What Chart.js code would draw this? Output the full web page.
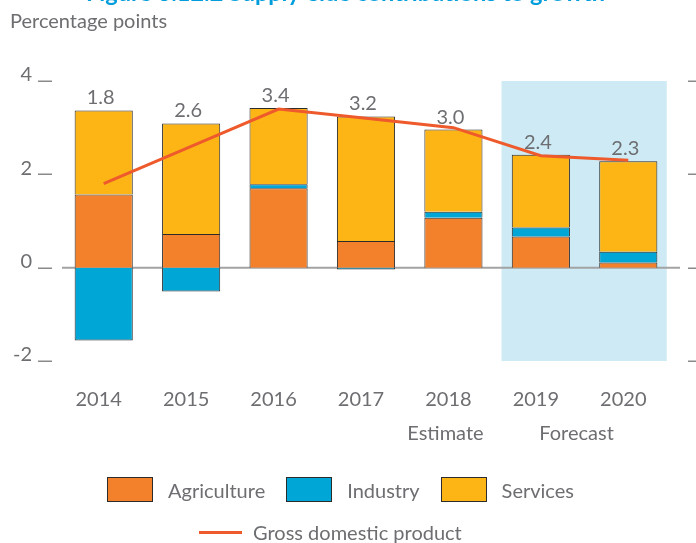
<!DOCTYPE html>
<html>
<head>
<meta charset="utf-8">
<script src="https://cdn.jsdelivr.net/npm/chart.js@4.4.1/dist/chart.umd.min.js"></script>
<style>
  html, body { margin: 0; padding: 0; background: #fff; }
  #wrap { position: relative; width: 696px; height: 543px; overflow: hidden; }
  #chart { position: absolute; left: 0; top: 0; }
  .legend-row {
    position: absolute;
    display: flex;
    align-items: center;
    font-family: Lato, sans-serif;
    font-size: 20px;
    color: #6d6e71;
    white-space: nowrap;
  }
  .legend-item { display: flex; align-items: center; margin-right: 21px; }
  .swatch { width: 44px; height: 23px; border: 1px solid #2b2b2b; margin-right: 15px; }
  .line-swatch { width: 43px; height: 3px; background: #ee5a2c; margin-right: 11px; }
</style>
</head>
<body>
<div id="wrap">
  <canvas id="chart" width="696" height="543"></canvas>
  <div class="legend-row" id="legend1" style="left:107px; top:477px;"></div>
  <div class="legend-row" id="legend2" style="left:199px; top:520px;"></div>
</div>
<script>
const years = ['2014', '2015', '2016', '2017', '2018', '2019', '2020']
const agriculture = [1.57, 0.72, 1.70, 0.57, 1.07, 0.67, 0.11]
const industry = [-1.56, -0.51, 0.09, -0.04, 0.13, 0.19, 0.23]
const services = [1.80, 2.37, 1.63, 2.67, 1.76, 1.56, 1.94]
const gdp = [1.8, 2.6, 3.4, 3.2, 3.0, 2.4, 2.3]
const gdpLabels = ['1.8', '2.6', '3.4', '3.2', '3.0', '2.4', '2.3']
const periodNotes = ['', '', '', '', 'Estimate', 'Forecast', 'Forecast']
const yTicks = [-2, 0, 2, 4]

const titleText = 'Figure 3.12.2 Supply-side contributions to growth'
const unitText = 'Percentage points'

const COLORS = {
  agriculture: '#f3812b',
  industry: '#00a6d6',
  services: '#fdb515',
  gdp: '#ee5a2c',
  text: '#6d6e71',
  shade: '#cdeaf5',
  border: '#2b2b2b'
}
const FONT = 'Lato, sans-serif'

// shading, axis dashes, zero line, value labels and notes
const decorations = {
  id: 'decorations',
  beforeDatasetsDraw(chart) {
    const {ctx, chartArea, scales: {x, y}} = chart
    const cat = x.getPixelForValue(1) - x.getPixelForValue(0)
    ctx.save()

    const fc = periodNotes.map((n, i) => n === 'Forecast' ? i : -1).filter(i => i >= 0)
    if (fc.length) {
      const left = x.getPixelForValue(fc[0]) - cat * 0.45
      const right = x.getPixelForValue(fc[fc.length - 1]) + cat * 0.44
      ctx.fillStyle = COLORS.shade
      ctx.fillRect(left, chartArea.top, right - left, chartArea.bottom - chartArea.top)
    }

    ctx.strokeStyle = '#8a8a8a'
    ctx.lineWidth = 1.5
    yTicks.forEach(v => {
      const py = Math.round(y.getPixelForValue(v)) + 0.25
      ctx.beginPath()
      ctx.moveTo(38, py); ctx.lineTo(52, py)
      ctx.moveTo(688, py); ctx.lineTo(696, py)
      ctx.stroke()
    })

    const zy = y.getPixelForValue(0)
    ctx.strokeStyle = '#a3a3a3'
    ctx.lineWidth = 2
    ctx.beginPath()
    ctx.moveTo(chartArea.left + 2, zy)
    ctx.lineTo(chartArea.right + 8, zy)
    ctx.stroke()
    ctx.restore()
  },
  afterDatasetsDraw(chart) {
    const {ctx, scales: {x}} = chart
    ctx.save()
    ctx.fillStyle = COLORS.text
    ctx.font = '20px ' + FONT
    ctx.textAlign = 'center'
    ctx.textBaseline = 'alphabetic'

    years.forEach((yr, i) => {
      let top = Infinity
      for (let d = 0; d < 3; d++) {
        const el = chart.getDatasetMeta(d).data[i]
        const v = chart.data.datasets[d].data[i]
        if (v > 0) top = Math.min(top, el.y)
      }
      ctx.fillText(gdpLabels[i], x.getPixelForValue(i) - 3, top - 6)
    })

    // group consecutive notes and centre them below the years
    let start = 0
    for (let i = 1; i <= periodNotes.length; i++) {
      if (i === periodNotes.length || periodNotes[i] !== periodNotes[start]) {
        if (periodNotes[start]) {
          const cx = (x.getPixelForValue(start) + x.getPixelForValue(i - 1)) / 2
          ctx.fillText(periodNotes[start], cx - 8, 440)
        }
        start = i
      }
    }

    ctx.textAlign = 'left'
    ctx.fillText(unitText, 10, 28)

    // title sits mostly above the top edge, as in the source
    ctx.fillStyle = '#009ddc'
    ctx.font = 'bold 23.5px ' + FONT
    ctx.fillText(titleText, 86, 0.5)
    ctx.restore()
  }
}

new Chart(document.getElementById('chart'), {
  data: {
    labels: years,
    datasets: [
      {
        type: 'bar',
        label: 'Agriculture',
        data: agriculture,
        backgroundColor: COLORS.agriculture,
        borderColor: COLORS.border,
        borderWidth: 1,
        order: 2
      },
      {
        type: 'bar',
        label: 'Industry',
        data: industry,
        backgroundColor: COLORS.industry,
        borderColor: COLORS.border,
        borderWidth: 1,
        order: 2
      },
      {
        type: 'bar',
        label: 'Services',
        data: services,
        backgroundColor: COLORS.services,
        borderColor: COLORS.border,
        borderWidth: 1,
        order: 2
      },
      {
        type: 'line',
        label: 'Gross domestic product',
        data: gdp,
        stack: 'gdp',
        borderColor: COLORS.gdp,
        borderWidth: 3,
        pointRadius: 0,
        tension: 0,
        order: 1
      }
    ]
  },
  options: {
    responsive: false,
    animation: false,
    datasets: {
      bar: { barPercentage: 1, categoryPercentage: 0.665 }
    },
    layout: { padding: { top: 81, right: 24, left: 0, bottom: 0 } },
    plugins: {
      legend: { display: false },
      tooltip: { enabled: false }
    },
    scales: {
      x: {
        stacked: true,
        grid: { display: false },
        border: { display: false },
        ticks: {
          color: COLORS.text,
          font: { family: FONT, size: 20 },
          padding: 19,
          labelOffset: -5
        },
        afterFit(scale) { scale.height = 182 }
      },
      y: {
        stacked: true,
        min: -2,
        max: 4,
        afterBuildTicks(scale) { scale.ticks = yTicks.map(v => ({value: v})) },
        grid: { display: false, drawTicks: false },
        border: { display: false },
        ticks: {
          color: COLORS.text,
          font: { family: FONT, size: 20 },
          padding: 28,
          labelOffset: -6
        },
        afterFit(scale) { scale.width = 60 }
      }
    }
  },
  plugins: [decorations]
})

// html legend
const legendItems = [
  {label: 'Agriculture', color: COLORS.agriculture},
  {label: 'Industry', color: COLORS.industry},
  {label: 'Services', color: COLORS.services}
]
const row1 = document.getElementById('legend1')
legendItems.forEach(item => {
  const el = document.createElement('div')
  el.className = 'legend-item'
  el.innerHTML = `<div class="swatch" style="background:${item.color}"></div><span>${item.label}</span>`
  row1.appendChild(el)
})
document.getElementById('legend2').innerHTML =
  '<div class="legend-item"><div class="line-swatch"></div><span>Gross domestic product</span></div>'
</script>
</body>
</html>
